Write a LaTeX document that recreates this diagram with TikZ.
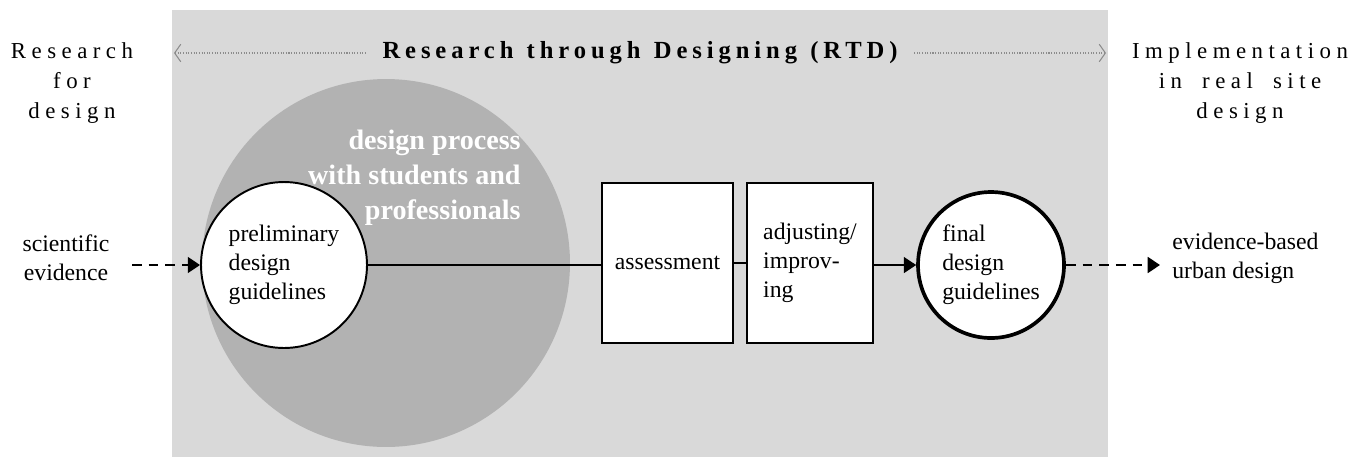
\documentclass[tikz,border=0pt]{standalone}
\usepackage{fontspec}
\setmainfont{Liberation Serif}
\newfontfamily\spacedfont[LetterSpace=24,WordSpace=1.8]{Liberation Serif}
\newfontfamily\headfont[LetterSpace=20,WordSpace=1.2]{Liberation Serif}
\usetikzlibrary{arrows.meta}
\definecolor{panel}{HTML}{D9D9D9}
\definecolor{blob}{HTML}{B2B2B2}
\definecolor{dotline}{HTML}{8C8C8C}
\begin{document}
\begin{tikzpicture}[x=0.02cm,y=-0.02cm,
  txt/.style={font=\fontsize{13.5}{16.5}\selectfont, inner sep=0},
  spaced/.style={font=\spacedfont\fontsize{13}{17}\selectfont, align=center, inner sep=0},
  stage/.style={circle, draw, fill=white, line width=1.1pt, align=left, inner sep=0,
                font=\fontsize{13.5}{16.5}\selectfont},
  stepbox/.style={draw, fill=white, line width=0.9pt, inner sep=0,
                font=\fontsize{13.5}{16.5}\selectfont},
  flow/.style={line width=1.1pt},
  tip/.style={-{Triangle[length=7pt,width=9pt]}},
  dashflow/.style={line width=1.4pt, tip, dash pattern=on 5.5pt off 4pt},
  span/.style={dotline, line width=0.6pt, dash pattern=on 0.6pt off 0.9pt},
  spantip/.style={{Straight Barb[length=3.5pt,width=10pt,line width=0.6pt]}-}]
\useasboundingbox (0,0) rectangle (1368,457);
% RTD panel and the workshop disc
\fill[panel] (172,10) rectangle (1108,457);
\fill[blob] (386,263) circle [radius=3.68cm];
\node[anchor=east, align=right, text=white, inner sep=0,
      font=\fontsize{16}{19.8}\selectfont\bfseries] (workshop) at (521,178)
  {design process\\with students and\\professionals};

% header
\node[font=\headfont\fontsize{14}{17}\selectfont\bfseries, inner sep=0] (rtd) at (640,53)
  {Research through Designing (RTD)};
\coordinate (spanL) at (174,53);
\coordinate (spanR) at (1106,53);
\draw[span, spantip] (spanL) -- ([xshift=-9pt]rtd.west);
\draw[span, spantip] (spanR) -- ([xshift=9pt]rtd.east);

\node[spaced] (rfd) at (72,83) {Research\\for\\design};
\node[spaced] (impl) at (1240,83) {Implementation\\in real site\\design};

% process chain
\node[txt, align=center] (sci) at (66,258) {scientific\\evidence};
\node[stage, minimum size=3.32cm] (pre) at (284,265) {preliminary\\design\\guidelines};
\node[stepbox, minimum width=2.62cm, minimum height=3.2cm] (ass) at (667.5,263) {assessment};
\node[stepbox, minimum width=2.52cm, minimum height=3.2cm, align=left] (adj) at (810,263)
  {adjusting/\\improv-\\ing};
\node[stage, line width=2.1pt, minimum size=2.92cm] (fin) at (991,265) {final\\design\\guidelines};
\node[txt, anchor=west, align=left] (ebd) at (1172,258) {evidence-based\\urban design};

\coordinate (sciend) at (132,265);
\coordinate (ebdend) at (1160,265);
\draw[dashflow] (sciend) -- (pre.west);
\draw[flow] (pre.east) -- (pre.east -| ass.west);
\draw[flow] (ass.east |- adj.west) -- (adj.west);
\draw[flow, tip] (adj.east |- fin.west) -- (fin.west);
\draw[dashflow] (fin.east) -- (ebdend);
\end{tikzpicture}
\end{document}
